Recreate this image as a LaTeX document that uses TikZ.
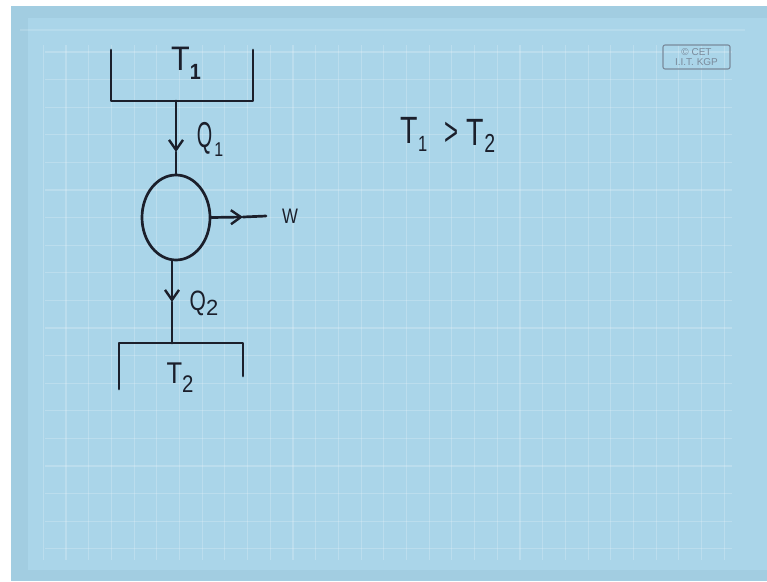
\documentclass[tikz,border=0pt]{standalone}
\usepackage{fontspec}
\setmainfont{Liberation Sans}
\usetikzlibrary{arrows.meta,shapes.geometric}
\definecolor{paper}{HTML}{AAD5E9}
\definecolor{paperedge}{HTML}{A2CDE1}
\definecolor{ink}{HTML}{1B1F2B}
\definecolor{logo}{HTML}{7A8A9B}
\newcommand{\fs}[1]{\fontsize{#1}{#1}\selectfont}
\begin{document}
\begin{tikzpicture}[x=1pt,y=-1pt,
  pen/.style={draw=ink,line width=2.7pt,line cap=round,line join=round},
  vee/.style={-{Straight Barb[length=10pt,width=14pt,line width=2.4pt]}},
  hand/.style={text=ink,inner sep=0pt,anchor=center},
  gridline/.style={draw=white,opacity=0.2,line width=1.1pt},
  logobox/.style={draw=logo,line width=1.1pt,rounded corners=2pt,inner sep=1pt,
    text=logo,font=\fontsize{10}{10}\selectfont,align=center,minimum width=67pt,minimum height=24pt}]
% paper
\fill[white] (0,0) rectangle (767,581);
\fill[paperedge] (11,6) rectangle (767,581);
\fill[paper] (28,18) rectangle (767,570);
\foreach \i in {0,...,18}
  \draw[gridline] (45,{52+27.6*\i}) -- (732,{52+27.6*\i});
\foreach \i in {0,...,30}
  \draw[gridline] ({43.3+22.7*\i},45) -- ({43.3+22.7*\i},560);
\draw[gridline,opacity=0.15] (20,30) -- (745,30);
% logo
\node[logobox] (logo) at (696.5,57) {\copyright\ CET\\I.I.T. KGP};
% hot reservoir T1
\coordinate (r1tl) at (111,50);
\coordinate (r1bl) at (111,101);
\coordinate (r1br) at (253,101);
\coordinate (r1tr) at (253,50);
\draw[pen] (r1tl) -- (r1bl) -- (r1br) -- (r1tr);
\node[hand,font=\fs{34},xscale=0.9] (t1) at (186,63) {T\raisebox{-9pt}{\fs{22}\bfseries 1}};
% engine
\node[pen,ellipse,minimum width=68pt,minimum height=85pt,inner sep=0pt] (eng) at (176,217.5) {};
\coordinate (q1top) at (176,101);
\coordinate (q1tip) at (176,152);
\draw[pen,vee] (q1top) -- (q1tip);
\draw[pen] (q1tip) -- (eng.north);
\node[hand,font=\fs{36}] (q1) at (210,139) {\scalebox{0.55}[1]{Q}\kern2pt\raisebox{-9pt}{\fs{20}\scalebox{0.8}[1]{1}}};
% work
\coordinate (wtip) at (243,217);
\coordinate (wend) at (266,216);
\draw[pen,vee] (eng.east) -- (wtip);
\draw[pen] (wtip) -- (wend);
\node[hand,font=\fs{21},xscale=0.8] (w) at (290,216) {W};
% rejected heat
\coordinate (q2tip) at (172,302);
\coordinate (r2mid) at (172,343);
\draw[pen,vee] (eng.south -| q2tip) -- (q2tip);
\draw[pen] (q2tip) -- (r2mid);
\node[hand,font=\fs{28}] (q2) at (204,303) {\scalebox{0.75}[1]{Q}\raisebox{-5pt}{\fs{22}2}};
% cold reservoir T2
\coordinate (r2bl) at (119,389);
\coordinate (r2tl) at (119,343);
\coordinate (r2tr) at (243,343);
\coordinate (r2br) at (243,376);
\draw[pen] (r2bl) -- (r2tl) -- (r2tr) -- (r2br);
\node[hand,font=\fs{30},xscale=0.85] (t2) at (180,378) {T\raisebox{-9pt}{\fs{24}2}};
% relation
\node[hand,font=\fs{38},xscale=0.75] (rt1) at (414,134) {T\raisebox{-8pt}{\fs{22}1}};
\node[hand,font=\fs{40},xscale=0.6] (gt) at (451,134) {>};
\node[hand,font=\fs{38},xscale=0.75] (rt2) at (481,136) {T\raisebox{-7pt}{\fs{26}2}};
\end{tikzpicture}
\end{document}
